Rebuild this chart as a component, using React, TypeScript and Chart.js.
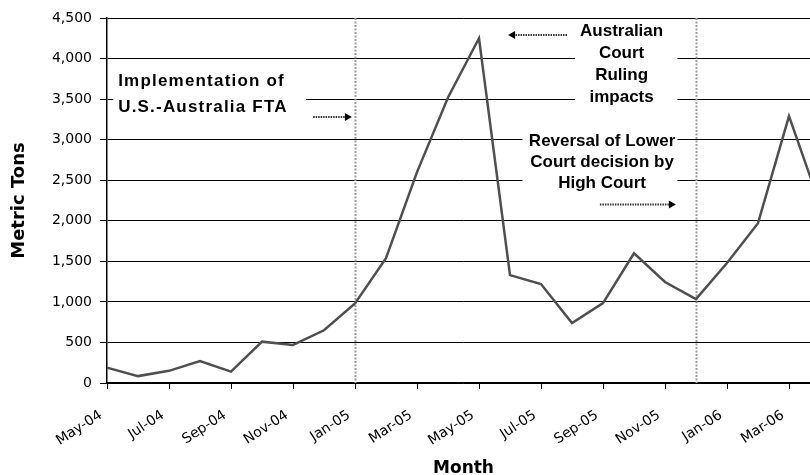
import { useEffect, useRef } from 'react';
import { Chart, registerables } from 'chart.js';

Chart.register(...registerables);

const months = [
  'May-04', 'Jun-04', 'Jul-04', 'Aug-04', 'Sep-04', 'Oct-04', 'Nov-04', 'Dec-04',
  'Jan-05', 'Feb-05', 'Mar-05', 'Apr-05', 'May-05', 'Jun-05', 'Jul-05', 'Aug-05',
  'Sep-05', 'Oct-05', 'Nov-05', 'Dec-05', 'Jan-06', 'Feb-06', 'Mar-06', 'Apr-06',
];

const metricTons = [
  190, 85, 150, 270, 140, 510, 470, 650,
  980, 1540, 2600, 3520, 4250, 1330, 1220, 740,
  985, 1600, 1245, 1035, 1480, 1970, 3290, 2200,
];

const eventMonths = ['Jan-05', 'Dec-05'];

const noteTexts = [
  ['Implementation of', 'U.S.-Australia FTA'],
  ['Australian', 'Court', 'Ruling', 'impacts'],
  ['Reversal of Lower', 'Court decision by', 'High Court'],
];

// annotation layout (data-space anchors)
const noteLayout = [
  { x: 0.36, y: 3717, align: 'left', gap: 26, spacing: 1.2, box: [0.2, 6.42, 3880, 3220] },
  { x: 16.6, y: 4339, align: 'center', gap: 22, spacing: 0, box: [15.1, 18.4, 4440, 3390] },
  { x: 15.97, y: 2983, align: 'center', gap: 21.3, spacing: 0, box: [13.4, 18.4, 3140, 2300] },
];

const arrowLayout = [
  { from: [6.65, 3279], to: [7.9, 3279] },
  { from: [14.84, 4290], to: [12.94, 4290] },
  { from: [15.9, 2200], to: [18.35, 2200] },
];

const annotationPlugin = {
  id: 'notes',
  beforeDatasetsDraw(chart: any) {
    const { ctx, chartArea } = chart;
    const x = chart.scales.x;
    const y = chart.scales.y;
    ctx.save();
    // event lines
    eventMonths.forEach((m) => {
      const px = Math.round(x.getPixelForValue(months.indexOf(m))) + 0.5;
      ctx.strokeStyle = '#9c9c9c';
      ctx.lineWidth = 2;
      ctx.setLineDash([2, 1.5]);
      ctx.beginPath();
      ctx.moveTo(px, chartArea.top);
      ctx.lineTo(px, chartArea.bottom);
      ctx.stroke();
    });
    ctx.setLineDash([]);
    // boxes + text
    noteLayout.forEach((n, i) => {
      const [x0, x1, y0, y1] = n.box;
      const bx = x.getPixelForValue(x0);
      const bx2 = x.getPixelForValue(x1);
      const by = y.getPixelForValue(y0);
      const by2 = y.getPixelForValue(y1);
      ctx.fillStyle = '#ffffff';
      ctx.fillRect(bx, by, bx2 - bx, by2 - by);
      ctx.fillStyle = '#000000';
      ctx.font = 'bold 17px "Liberation Sans", Arial, sans-serif';
      (ctx as any).letterSpacing = n.spacing + 'px';
      ctx.textAlign = n.align;
      ctx.textBaseline = 'middle';
      const tx = x.getPixelForValue(n.x);
      const ty = y.getPixelForValue(n.y);
      noteTexts[i].forEach((line, j) => {
        ctx.fillText(line, tx, ty + j * n.gap);
      });
      (ctx as any).letterSpacing = '0px';
    });
    // arrows
    arrowLayout.forEach((a) => {
      const fx = x.getPixelForValue(a.from[0]);
      const fy = y.getPixelForValue(a.from[1]);
      const tx = x.getPixelForValue(a.to[0]);
      const ty = y.getPixelForValue(a.to[1]);
      const dir = Math.sign(tx - fx);
      ctx.strokeStyle = '#333333';
      ctx.lineWidth = 2;
      ctx.setLineDash([1.5, 1]);
      ctx.beginPath();
      ctx.moveTo(fx, fy);
      ctx.lineTo(tx - dir * 5, ty);
      ctx.stroke();
      ctx.setLineDash([]);
      ctx.fillStyle = '#000000';
      ctx.beginPath();
      ctx.moveTo(tx, ty);
      ctx.lineTo(tx - dir * 7, ty - 4);
      ctx.lineTo(tx - dir * 7, ty + 4);
      ctx.closePath();
      ctx.fill();
    });
    ctx.restore();
  },
};

export default function App() {
  const ref = useRef<HTMLCanvasElement>(null);
  useEffect(() => {
    const chart = new Chart(ref.current as HTMLCanvasElement, {
      type: 'line',
      data: {
        labels: months,
        datasets: [
          {
            data: metricTons,
            borderColor: '#4f4f4f',
            borderWidth: 2.5,
            pointRadius: 0,
            tension: 0,
            fill: false,
          },
        ],
      },
      options: {
        responsive: false,
        animation: false,
        layout: { padding: { left: 0, top: 18, right: 20, bottom: 0 } },
        plugins: { legend: { display: false }, tooltip: { enabled: false } },
        scales: {
          x: {
            offset: false,
            ticks: {
              autoSkip: false,
              maxRotation: 33,
              minRotation: 33,
              padding: 18,
              labelOffset: -6,
              color: '#000',
              font: { family: '"DejaVu Sans", sans-serif', size: 14 },
              callback: (_v: any, i: number) => (i % 2 === 0 ? months[i] : ''),
            },
            grid: {
              drawOnChartArea: false,
              drawTicks: true,
              tickLength: 6,
              color: (c: any) => (c.index % 2 === 0 ? '#000' : 'rgba(0,0,0,0)'),
            },
            border: { color: '#000', width: 1.5 },
            title: {
              display: true,
              text: 'Month',
              color: '#000',
              font: { family: '"DejaVu Sans", sans-serif', size: 17, weight: 'bold', lineHeight: 0.8 },
              padding: { top: 0, bottom: 0 },
            },
            afterFit: (s: any) => {
              s.height = 92;
              s.paddingLeft = 0;
              s.paddingRight = 0;
            },
          },
          y: {
            min: 0,
            max: 4500,
            ticks: {
              stepSize: 500,
              padding: 8,
              color: '#000',
              font: { family: '"DejaVu Sans", sans-serif', size: 14 },
              callback: (v: any) => Number(v).toLocaleString('en-US'),
            },
            grid: { color: '#000', lineWidth: 1, tickLength: 7 },
            border: { color: '#000', width: 1.5 },
            title: {
              display: true,
              text: 'Metric Tons',
              color: '#000',
              font: { family: '"DejaVu Sans", sans-serif', size: 18, weight: 'bold' },
              padding: { top: 9, bottom: 0 },
            },
            afterFit: (s: any) => {
              s.width = 107;
              s.paddingTop = 0;
              s.paddingBottom = 0;
            },
          },
        },
      } as any,
      plugins: [annotationPlugin as any],
    });
    return () => chart.destroy();
  }, []);

  return (
    <div style={{ position: 'absolute', left: 0, top: 0, width: 810, height: 475, overflow: 'hidden', background: '#fff' }}>
      <canvas ref={ref} width={840} height={475} style={{ display: 'block', width: 840, height: 475 }} />
    </div>
  );
}
